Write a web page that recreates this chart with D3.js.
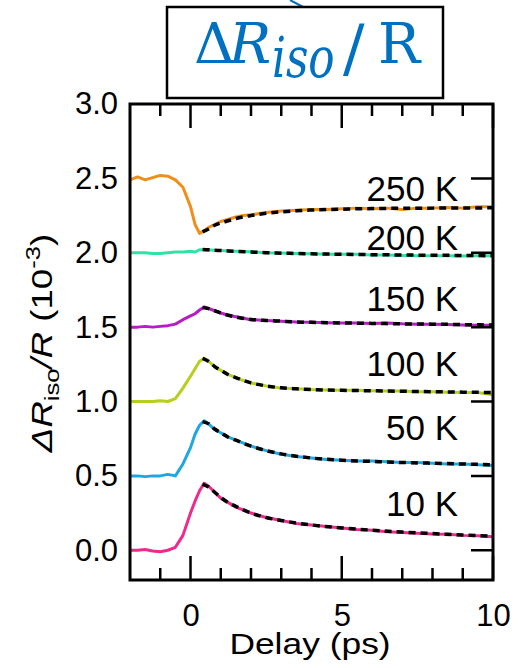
<!DOCTYPE html>
<html>
<head>
<meta charset="utf-8">
<script src="https://cdn.jsdelivr.net/npm/d3@7"></script>
<style>
  body { margin: 0; background: #fff; }
  svg { display: block; font-family: "Liberation Sans", Arial, sans-serif; }
</style>
</head>
<body>
<div id="chart"></div>
<script>
const WIDTH = 518;
const HEIGHT = 668;

const MARGIN = { TOP: 104, RIGHT: 25, BOTTOM: 88, LEFT: 130 };

// delay grid (ps) for the measured traces
const delay = [-2, -1.75, -1.5, -1.25, -1, -0.75, -0.5, -0.25, 0, 0.15, 0.3, 0.45, 0.6, 0.8, 1,
  1.25, 1.5, 1.75, 2, 2.5, 3, 3.5, 4, 4.5, 5, 5.5, 6, 6.5, 7, 7.5, 8, 8.5, 9, 9.5, 10];

const temps = ["10 K", "50 K", "100 K", "150 K", "200 K", "250 K"];
const colors = ["#ee2a8c", "#1fa7e1", "#b7cf1b", "#b81cc4", "#2fe3a8", "#ef8f1a"];

// traces, offset by 0.5 each (10^-3)
const trace10 = [0, 0, 0.005, -0.005, -0.01, 0, 0.02, 0.1, 0.25, 0.33, 0.4, 0.45, 0.43, 0.39, 0.35,
  0.32, 0.29, 0.27, 0.25, 0.22, 0.2, 0.18, 0.17, 0.16, 0.15, 0.14, 0.135, 0.125, 0.12, 0.115, 0.11, 0.108, 0.1, 0.097, 0.09];
const trace50 = [0.5, 0.5, 0.495, 0.5, 0.5, 0.51, 0.5, 0.58, 0.69, 0.78, 0.84, 0.87, 0.85, 0.81, 0.79,
  0.76, 0.74, 0.72, 0.7, 0.67, 0.645, 0.63, 0.62, 0.61, 0.605, 0.6, 0.6, 0.595, 0.59, 0.59, 0.585, 0.58, 0.58, 0.575, 0.57];
const trace100 = [1, 1, 1, 1, 1.005, 1, 1.02, 1.09, 1.17, 1.22, 1.27, 1.29, 1.27, 1.235, 1.21,
  1.18, 1.16, 1.14, 1.125, 1.105, 1.09, 1.085, 1.08, 1.078, 1.075, 1.075, 1.072, 1.07, 1.07, 1.066, 1.065, 1.063, 1.06, 1.06, 1.045];
const trace150 = [1.5, 1.5, 1.505, 1.5, 1.505, 1.51, 1.52, 1.55, 1.575, 1.59, 1.615, 1.635, 1.625, 1.61, 1.595,
  1.58, 1.57, 1.56, 1.55, 1.545, 1.54, 1.535, 1.533, 1.53, 1.528, 1.527, 1.525, 1.527, 1.522, 1.52, 1.52, 1.518, 1.515, 1.512, 1.512];
const trace200 = [2, 2, 2, 1.995, 1.995, 2, 2.005, 2.005, 2.01, 2.005, 2.02, 2.02, 2.018, 2.016, 2.015,
  2.012, 2.01, 2.008, 2.006, 2, 1.998, 1.995, 1.994, 1.99, 1.99, 1.99, 1.985, 1.985, 1.982, 1.98, 1.98, 1.98, 1.978, 1.98, 1.98];
const trace250 = [2.49, 2.51, 2.49, 2.505, 2.52, 2.515, 2.49, 2.44, 2.31, 2.19, 2.13, 2.15, 2.17, 2.19, 2.21,
  2.225, 2.24, 2.25, 2.255, 2.27, 2.28, 2.285, 2.29, 2.29, 2.295, 2.3, 2.295, 2.3, 2.29, 2.3, 2.3, 2.305, 2.3, 2.31, 2.31];

// fits (dashed)
const fitDelay = [0.4, 0.6, 0.8, 1, 1.25, 1.5, 2, 2.5, 3, 3.5, 4, 5, 6, 7, 8, 9, 10];
const fit10 = [0.445, 0.425, 0.39, 0.355, 0.32, 0.295, 0.25, 0.22, 0.2, 0.183, 0.17, 0.15, 0.135, 0.122, 0.112, 0.103, 0.095];
const fit50 = [0.865, 0.85, 0.815, 0.79, 0.76, 0.74, 0.7, 0.67, 0.648, 0.632, 0.62, 0.605, 0.597, 0.59, 0.585, 0.58, 0.575];
const fit100 = [1.29, 1.27, 1.235, 1.21, 1.18, 1.16, 1.125, 1.105, 1.092, 1.085, 1.08, 1.075, 1.072, 1.069, 1.066, 1.063, 1.06];
const fit150 = [1.632, 1.624, 1.61, 1.595, 1.58, 1.568, 1.552, 1.545, 1.54, 1.535, 1.532, 1.528, 1.525, 1.522, 1.52, 1.517, 1.514];
const fit200 = [2.022, 2.02, 2.017, 2.015, 2.012, 2.01, 2.005, 2, 1.997, 1.995, 1.993, 1.99, 1.987, 1.985, 1.983, 1.982, 1.98];
const fit250 = [2.14, 2.16, 2.185, 2.2, 2.215, 2.23, 2.25, 2.265, 2.275, 2.282, 2.287, 2.293, 2.297, 2.299, 2.3, 2.301, 2.302];

// where each temperature label sits (value units)
const labelY = [0.23, 0.74, 1.17, 1.61, 2.02, 2.35];

const traces = [trace10, trace50, trace100, trace150, trace200, trace250];
const fits = [fit10, fit50, fit100, fit150, fit200, fit250];

const xTicks = [0, 5, 10];
const xMinor = [-1, 1, 2, 3, 4, 6, 7, 8, 9];
const yTicks = [0, 0.5, 1, 1.5, 2, 2.5, 3];

const svg = d3.select("#chart").append("svg")
  .attr("width", WIDTH)
  .attr("height", HEIGHT);

const x = d3.scaleLinear().domain([-2, 10]).range([MARGIN.LEFT, WIDTH - MARGIN.RIGHT]);
const y = d3.scaleLinear().domain([-0.2, 3.0]).range([HEIGHT - MARGIN.BOTTOM, MARGIN.TOP]);

const lineRaw = d3.line().x((d) => x(d[0])).y((d) => y(d[1]));
const lineFit = d3.line().x((d) => x(d[0])).y((d) => y(d[1])).curve(d3.curveMonotoneX);

// traces
traces.forEach((tr, i) => {
  svg.append("path")
    .datum(delay.map((t, j) => [t, tr[j]]))
    .attr("d", lineRaw)
    .attr("fill", "none")
    .attr("stroke", colors[i])
    .attr("stroke-width", 3)
    .attr("stroke-linejoin", "round");
});
fits.forEach((f) => {
  svg.append("path")
    .datum(fitDelay.map((t, j) => [t, f[j]]))
    .attr("d", lineFit)
    .attr("fill", "none")
    .attr("stroke", "#000")
    .attr("stroke-width", 3.5)
    .attr("stroke-dasharray", "7,5");
});

// labels
temps.forEach((t, i) => {
  svg.append("text")
    .attr("x", 458)
    .attr("y", y(labelY[i]))
    .attr("text-anchor", "end")
    .attr("font-size", "35px")
    .attr("fill", "#000")
    .text(t);
});

// frame
const x0 = x.range()[0], x1 = x.range()[1], y0 = y.range()[0], y1 = y.range()[1];
svg.append("rect")
  .attr("x", x0).attr("y", y1)
  .attr("width", x1 - x0).attr("height", y0 - y1)
  .attr("fill", "none").attr("stroke", "#000").attr("stroke-width", 3);

// inward ticks on top, bottom and right, as one path
const tickLen = (v) => (xTicks.includes(v) ? 24 : 12);
let tickPath = "";
xTicks.concat(xMinor).forEach((v) => {
  const px = x(v);
  tickPath += `M${px},${y0}V${y0 - tickLen(v)}`;
  tickPath += `M${px},${y1}V${y1 + tickLen(v)}`;
});
yTicks.slice(0, -1).forEach((v) => {
  tickPath += `M${x1},${y(v)}H${x1 - 22}`;
});
svg.append("path")
  .attr("d", tickPath)
  .attr("fill", "none")
  .attr("stroke", "#000")
  .attr("stroke-width", 2.5);

// tick labels
svg.append("g").attr("transform", `translate(0,${y0})`)
  .call(d3.axisBottom(x).tickValues(xTicks).tickSize(0).tickPadding(24).tickFormat(d3.format("d")))
  .call((g) => {
    g.select(".domain").remove();
    g.selectAll("text").attr("font-size", "31px").attr("font-family", "Liberation Sans").attr("fill", "#000");
  });
svg.append("g").attr("transform", `translate(${x0},0)`)
  .call(d3.axisLeft(y).tickValues(yTicks).tickSize(0).tickPadding(12).tickFormat(d3.format(".1f")))
  .call((g) => {
    g.select(".domain").remove();
    g.selectAll("text").attr("font-size", "31px").attr("font-family", "Liberation Sans").attr("fill", "#000");
  });

// axis titles
svg.append("text")
  .attr("transform", "translate(310,654) scale(1.18,1)")
  .attr("text-anchor", "middle")
  .attr("font-size", "30px")
  .text("Delay (ps)");

const yLabel = svg.append("text")
  .attr("transform", "translate(52,343) rotate(-90) scale(1.22,1)")
  .attr("text-anchor", "middle")
  .attr("font-size", "30px");
yLabel.append("tspan").attr("font-style", "italic").text("ΔR");
yLabel.append("tspan").attr("font-size", "21px").attr("dy", 7).text("iso");
yLabel.append("tspan").attr("font-style", "italic").attr("dy", -7).text("/R");
yLabel.append("tspan").text(" (10");
yLabel.append("tspan").attr("font-size", "21px").attr("dy", -12).text("-3");
yLabel.append("tspan").attr("dy", 12).text(")");

// boxed title
svg.append("line")
  .attr("x1", 290).attr("y1", 0).attr("x2", 305).attr("y2", 8)
  .attr("stroke", "#0070c0").attr("stroke-width", 2);
svg.append("rect")
  .attr("x", 167).attr("y", 7).attr("width", 276).attr("height", 91)
  .attr("fill", "#fff").attr("stroke", "#000").attr("stroke-width", 2.5);
const title = svg.append("g")
  .attr("font-family", "DejaVu Serif")
  .attr("fill", "#0070c0");
title.append("text").attr("x", 194).attr("y", 63).attr("font-size", "56px").text("Δ");
title.append("text").attr("x", 229).attr("y", 63).attr("font-size", "56px").attr("font-style", "italic").text("R");
title.append("text").attr("transform", "translate(272,77) scale(0.78,1)")
  .attr("font-size", "56px").attr("font-style", "italic").text("iso");
title.append("text").attr("x", 343).attr("y", 70)
  .attr("font-size", "64px").text("/");
title.append("text").attr("x", 378).attr("y", 63).attr("font-size", "56px").text("R");
</script>
</body>
</html>
